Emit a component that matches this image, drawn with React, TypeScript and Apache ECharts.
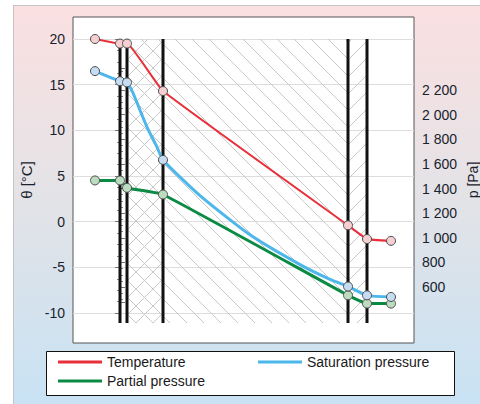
import React, { useEffect, useRef } from 'react';
import * as echarts from 'echarts';

// x positions of the plotted points (interior air, layer boundaries, exterior air)
const positions = [-25, 0, 7, 43, 228, 247, 271];
const temperature = [20.0, 19.5, 19.5, 14.3, -0.4, -1.9, -2.1];
const saturationPressure = [2354, 2272, 2262, 1633, 605, 533, 520];
const partialPressure = [1466, 1466, 1406, 1352, 533, 466, 466];
// extra points (no markers)
const saturationCurveX = [13, 27, 37, 80, 130, 180, 210];
const saturationCurveP = [2176, 1899, 1737, 1343, 1025, 783, 663];
// wall layer boundaries and hatching of each layer
const wallBoundaries = [0, 7, 43, 228, 247];
const layerHatch = ['none', 'cross', 'back', 'fwd'];
const wallSpan = [20, -11.1];
const seriesNames = ['Temperature', 'Saturation pressure', 'Partial pressure'];
const seriesColors = ['#e8303a', '#4db6ea', '#0b8a43'];
const markerColors = ['#f6cfd2', '#c5dcf2', '#bcdcc0'];

const FONT = '"Liberation Sans", Arial, sans-serif';

function fmtPressure(v: number) {
  if (v >= 1000) {
    const th = Math.floor(v / 1000);
    const rest = Math.round(v - th * 1000);
    return th + ' ' + String(rest).padStart(3, '0');
  }
  return String(v);
}

export default function App() {
  const ref = useRef<HTMLDivElement>(null);
  useEffect(() => {
    if (!ref.current) return;
    const chart = echarts.init(ref.current, null, { renderer: 'svg' });

    const tempData = positions.map((x, i) => [x, temperature[i]]);
    const satLine = positions
      .map((x, i) => [x, saturationPressure[i]])
      .concat(saturationCurveX.map((x, i) => [x, saturationCurveP[i]]))
      .sort((a, b) => a[0] - b[0]);
    const satPts = positions.map((x, i) => [x, saturationPressure[i]]);
    const partData = positions.map((x, i) => [x, partialPressure[i]]);

    const hatchStroke = { stroke: '#c9c9c9', lineWidth: 1 };
    const labelStyle = { margin: 8, fontSize: 14, fontFamily: FONT, color: '#18222e' };

    const option: any = {
      animation: false,
      grid: [
        { left: 73, width: 341, top: 39, height: 274 },
        { left: 73, width: 341, top: 68.5, height: 234 },
        { left: 73, width: 341, top: 17, height: 326, show: true, backgroundColor: '#ffffff', borderColor: '#555555', borderWidth: 1 },
      ],
      xAxis: [0, 1, 2].map((g) => ({ type: 'value', gridIndex: g, min: -47, max: 294, show: false })),
      yAxis: [
        {
          type: 'value', gridIndex: 0, min: -10, max: 20, interval: 5,
          axisLine: { show: false },
          axisTick: { show: true, length: 5, lineStyle: { color: '#777' } },
          minorTick: { show: true, splitNumber: 4, length: 3, lineStyle: { color: '#888' } },
          splitLine: { show: true, lineStyle: { color: '#dddddd', width: 1 } },
          axisLabel: { ...labelStyle },
        },
        {
          type: 'value', gridIndex: 1, position: 'right', min: 475, max: 2375, splitNumber: 10,
          axisLine: { show: false },
          axisTick: { show: true, length: 5, lineStyle: { color: '#777' } },
          minorTick: { show: true, splitNumber: 4, length: 3, lineStyle: { color: '#888' } },
          splitLine: { show: false },
          axisLabel: { ...labelStyle, showMinLabel: false, showMaxLabel: false, formatter: (v: number) => fmtPressure(v) },
        },
        { type: 'value', gridIndex: 2, show: false },
      ],
      legend: seriesNames.map((n, i) => ({
        data: [n],
        left: [58, 258, 58][i],
        top: [355, 355, 374][i],
        icon: 'rect', itemWidth: 44, itemHeight: 3, itemGap: 0, padding: 0,
        selectedMode: false,
        textStyle: { fontSize: 14, fontFamily: FONT, color: '#1a1a1a' },
      })),
      graphic: [
        { type: 'rect', shape: { x: 46.5, y: 351.5, width: 408, height: 44 }, style: { fill: '#ffffff', stroke: '#111', lineWidth: 1 }, z: 0 },
        { type: 'text', x: 26, y: 180, rotation: Math.PI / 2, style: { text: 'θ [°C]', font: '15px ' + FONT, fill: '#18222e', align: 'center', verticalAlign: 'middle', textAlign: 'center', textVerticalAlign: 'middle' } },
        { type: 'text', x: 473, y: 180, rotation: Math.PI / 2, style: { text: 'p [Pa]', font: '14px ' + FONT, fill: '#18222e', align: 'center', verticalAlign: 'middle', textAlign: 'center', textVerticalAlign: 'middle' } },
      ],
      series: [
        {
          type: 'custom', name: 'hatch', xAxisIndex: 0, yAxisIndex: 0, silent: true, z: 1,
          data: layerHatch.map((_, i) => [wallBoundaries[i], wallSpan[0]]),
          renderItem: (params: any, api: any) => {
            const i = params.dataIndex;
            const pattern = layerHatch[i];
            const children: any[] = [];
            if (pattern !== 'none') {
              const p0 = api.coord([wallBoundaries[i], wallSpan[0]]);
              const p1 = api.coord([wallBoundaries[i + 1], wallSpan[1]]);
              const left = p0[0], right = p1[0], top = p0[1], bottom = p1[1];
              const s = 17;
              if (pattern === 'back' || pattern === 'cross') {
                for (let c = Math.ceil((left - bottom) / s) * s; c <= right - top; c += s) {
                  const xa = Math.max(left, top + c), xb = Math.min(right, bottom + c);
                  if (xb > xa) children.push({ type: 'line', shape: { x1: xa, y1: xa - c, x2: xb, y2: xb - c }, style: hatchStroke });
                }
              }
              if (pattern === 'fwd' || pattern === 'cross') {
                for (let c = Math.ceil((left + top) / s) * s; c <= right + bottom; c += s) {
                  const xa = Math.max(left, c - bottom), xb = Math.min(right, c - top);
                  if (xb > xa) children.push({ type: 'line', shape: { x1: xa, y1: c - xa, x2: xb, y2: c - xb }, style: hatchStroke });
                }
              }
            }
            return { type: 'group', children };
          },
        },
        {
          type: 'custom', name: 'walls', xAxisIndex: 0, yAxisIndex: 0, silent: true, z: 2,
          data: wallBoundaries.map((b) => [b, wallSpan[0]]),
          renderItem: (params: any, api: any) => {
            const a = api.coord([api.value(0), wallSpan[0]]);
            const b = api.coord([api.value(0), wallSpan[1]]);
            return { type: 'line', shape: { x1: a[0], y1: a[1], x2: b[0], y2: b[1] }, style: { stroke: '#111', lineWidth: 3 } };
          },
        },
        {
          type: 'line', name: seriesNames[2], xAxisIndex: 1, yAxisIndex: 1, data: partData,
          showSymbol: false, smooth: 0.1, clip: false, z: 3,
          lineStyle: { color: seriesColors[2], width: 3 }, itemStyle: { color: seriesColors[2] },
        },
        {
          type: 'line', name: seriesNames[1], xAxisIndex: 1, yAxisIndex: 1, data: satLine,
          showSymbol: false, smooth: 0.2, clip: false, z: 3,
          lineStyle: { color: seriesColors[1], width: 3 }, itemStyle: { color: seriesColors[1] },
        },
        {
          type: 'line', name: seriesNames[0], xAxisIndex: 0, yAxisIndex: 0, data: tempData,
          showSymbol: false, smooth: 0.1, clip: false, z: 3,
          lineStyle: { color: seriesColors[0], width: 2 }, itemStyle: { color: seriesColors[0] },
        },
        {
          type: 'scatter', name: 'pp-pts', xAxisIndex: 1, yAxisIndex: 1, data: partData, clip: false, z: 4,
          symbol: 'circle', symbolSize: 9, itemStyle: { color: markerColors[2], borderColor: '#4d4d4d', borderWidth: 1, opacity: 1 },
        },
        {
          type: 'scatter', name: 'sp-pts', xAxisIndex: 1, yAxisIndex: 1, data: satPts, clip: false, z: 4,
          symbol: 'circle', symbolSize: 9, itemStyle: { color: markerColors[1], borderColor: '#4d4d4d', borderWidth: 1, opacity: 1 },
        },
        {
          type: 'scatter', name: 't-pts', xAxisIndex: 0, yAxisIndex: 0, data: tempData, clip: false, z: 4,
          symbol: 'circle', symbolSize: 9, itemStyle: { color: markerColors[0], borderColor: '#4d4d4d', borderWidth: 1, opacity: 1 },
        },
      ],
    };
    chart.setOption(option);
    return () => chart.dispose();
  }, []);

  return (
    <div style={{ position: 'absolute', left: 0, top: 0, width: 480, height: 404, background: '#ffffff', overflow: 'hidden' }}>
      <div style={{ position: 'absolute', left: 13, top: 5, width: 467, height: 399, borderLeft: '1px solid #c4c4c4', borderTop: '1px solid #c4c4c4', background: 'linear-gradient(180deg, #fbe0e1 0%, #e2e3e7 50%, #c8e2f4 100%)' }} />
      <div ref={ref} style={{ position: 'absolute', left: 0, top: 0, width: 480, height: 404 }} />
    </div>
  );
}
